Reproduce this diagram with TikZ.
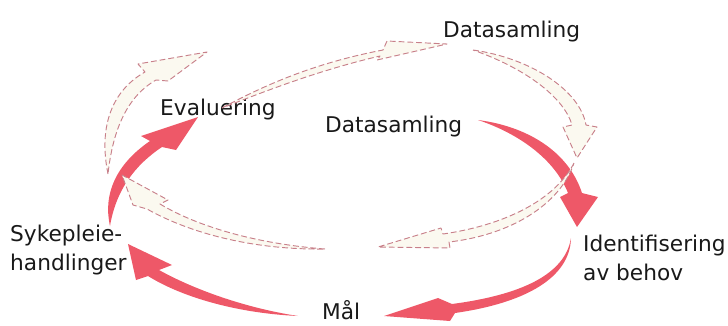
\documentclass[tikz,border=0pt]{standalone}
\usepackage{fontspec}
\setmainfont{DejaVu Sans}
\usepackage{xcolor}
\usepackage{tikz}

\definecolor{swoosh}{RGB}{238,88,104}
\definecolor{dashline}{RGB}{200,128,138}
\definecolor{ghost}{RGB}{251,249,240}

\begin{document}
\begin{tikzpicture}[x=0.03cm, y=-0.03cm,
  label/.style={inner sep=0, font=\fontsize{18.5}{25}\selectfont, text=black!90},
  redarrow/.style={fill=swoosh, draw=none},
  ghostarrow/.style={draw=dashline, fill=ghost, line width=0.8pt, dash pattern=on 5pt off 2.5pt, line join=round}]

\useasboundingbox (0,0) rectangle (728,325);

% labels
\node[label, anchor=base west] (datatop) at (443,37) {Datasamling};
\node[label, anchor=base west] (eval) at (160,115) {Evaluering};
\node[label, anchor=base west] (datamid) at (325,132) {Datasamling};
\node[label, anchor=west, align=left] (syke) at (10,250) {Sykepleie-\\handlinger};
\node[label, anchor=west, align=left] (ident) at (583,258) {Identifisering\\av behov};
\node[label, anchor=base west] (maal) at (322,319) {Mål};

% solid cycle
\fill[redarrow] (478,120) .. controls (525,126) and (568,150) .. (582,193)
  -- (598,197) -- (577,227) -- (560,197) -- (568,193)
  .. controls (555,160) and (520,134) .. (478,120) -- cycle;

\fill[redarrow] (571,238) .. controls (565,275) and (520,295) .. (452,304)
  -- (438,298) -- (384,316) -- (450,321) -- (455,313)
  .. controls (525,303) and (570,278) .. (571,238) -- cycle;

\fill[redarrow] (298,316) .. controls (234,313) and (180,296) .. (148,276)
  -- (136,280) -- (128,244) -- (172,265) -- (159,270)
  .. controls (195,290) and (246,308) .. (298,316) -- cycle;

\fill[redarrow] (110,226) .. controls (103,195) and (115,165) .. (150,141)
  -- (141,136) -- (198,117) -- (176,150) -- (162,147)
  .. controls (135,165) and (116,190) .. (110,226) -- cycle;

% next round, dashed
\filldraw[ghostarrow] (108,174) .. controls (98,125) and (113,90) .. (145,72)
  -- (138,64) -- (207,52) -- (168,81) -- (156,80)
  .. controls (128,96) and (113,128) .. (108,174) -- cycle;

\filldraw[ghostarrow] (222,108) .. controls (270,82) and (320,62) .. (383,50)
  -- (387,41) -- (447,44) -- (377,60) -- (380,56)
  .. controls (320,70) and (268,90) .. (222,108) -- cycle;

\filldraw[ghostarrow] (473,50) .. controls (530,58) and (580,90) .. (586,125)
  -- (597,127) -- (577,158) -- (563,127) -- (572,125)
  .. controls (565,100) and (530,70) .. (473,50) -- cycle;

\filldraw[ghostarrow] (574,163) .. controls (555,200) and (505,225) .. (443,234)
  -- (441,228) -- (378,247) -- (450,248) -- (449,242)
  .. controls (510,235) and (560,205) .. (574,163) -- cycle;

\filldraw[ghostarrow] (325,249) .. controls (260,244) and (200,228) .. (160,204)
  -- (168,200) -- (122,175) -- (133,205) -- (147,209)
  .. controls (195,236) and (260,250) .. (325,249) -- cycle;

\end{tikzpicture}
\end{document}
